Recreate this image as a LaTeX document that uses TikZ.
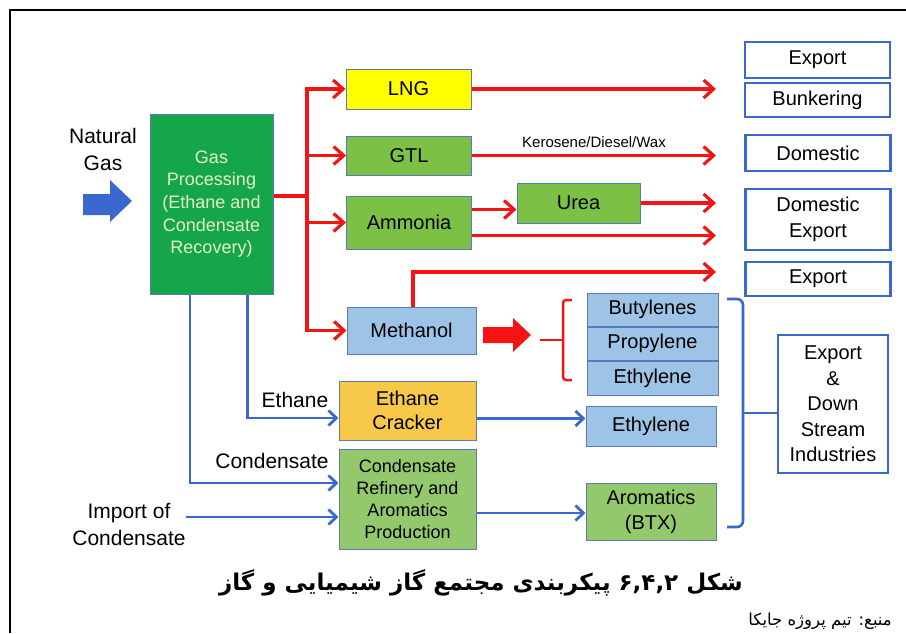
\documentclass[tikz,border=0pt]{standalone}
\usepackage{fontspec}
\setmainfont{Liberation Sans}
\newfontfamily\fafont[Script=Arabic]{DejaVu Sans}
\TeXXeTstate=1
\usepackage{xcolor}
\usepackage{tikz}
\usetikzlibrary{positioning,arrows.meta}
\definecolor{cRed}{HTML}{F41414}
\definecolor{cBlue}{HTML}{3A68CF}
\definecolor{cEdge}{HTML}{5A7BB4}
\definecolor{cGP}{HTML}{15A64A}
\definecolor{cGPtxt}{HTML}{E4F1C6}
\definecolor{cGreen}{HTML}{7CC045}
\definecolor{cGreenL}{HTML}{93C96C}
\definecolor{cYellow}{HTML}{FFFF00}
\definecolor{cOrange}{HTML}{F8C948}
\definecolor{cSky}{HTML}{9DC3E6}
\newcommand{\fs}[2]{\fontsize{#1}{#2}\selectfont}
\tikzset{
  blk/.style={draw=cEdge, line width=1pt, align=center, inner sep=0pt,
              font=\fs{20}{24}, minimum width=125pt, minimum height=40pt},
  blkG/.style={blk, fill=cGreen},
  blkL/.style={blk, fill=cGreenL, font=\fs{18}{22}},
  blkS/.style={blk, fill=cSky, minimum width=131pt},
  outb/.style={draw=cBlue, line width=2.5pt, fill=white, align=center,
               inner sep=0pt, font=\fs{20}{25.5}, minimum width=145pt},
  ar/.style={-{Straight Barb[length=10pt,width=18pt]}, cRed, line width=3.2pt},
  arB/.style={-{Straight Barb[length=8pt,width=15pt]}, cBlue, line width=2.8pt},
  tag/.style={font=\fs{21}{27}, inner sep=0pt, align=center}
}
\begin{document}
\begin{tikzpicture}[x=1pt,y=-1pt]
\useasboundingbox (0,0) rectangle (906,633);
\draw[line width=2pt] (10,633) -- (10,10) -- (906,10);
\node[tag] (ng) at (103,149) {Natural\\Gas};
\fill[cBlue] (83,194) -- (110,194) -- (110,180) -- (132,201) -- (110,222) -- (110,215) -- (83,215) -- cycle;
\node[blk, fill=cGP, text=cGPtxt, minimum width=123pt, minimum height=180pt,
      font=\fs{18}{22.7}] (gp) at (211.5,204) {Gas\\Processing\\(Ethane and\\Condensate\\Recovery)};
\node[blk, fill=cYellow] (lng) at (408.5,89) {LNG};
\node[blkG, minimum height=39pt] (gtl) at (409,155.5) {GTL};
\node[blkG, minimum height=53pt] (amm) at (409,222.5) {Ammonia};
\node[blkG, minimum width=123pt] (urea) at (578.5,203) {Urea};
\node[blk, fill=cSky, minimum width=129pt, minimum height=47pt] (meth) at (411.5,330.5) {Methanol};
\node[blk, fill=cOrange, minimum width=137pt, minimum height=59pt] (crack) at (407.5,410.5) {Ethane\\Cracker};
\node[blkL, minimum width=137pt, minimum height=100pt] (cond) at (407.5,499) {Condensate\\Refinery and\\Aromatics\\Production};
\node[blkS, minimum height=33pt] (but) at (652.5,309.5) {Butylenes};
\node[blkS, minimum height=33pt, below=0pt of but] (prop) {Propylene};
\node[blkS, minimum height=34pt, below=0pt of prop] (eth1) {Ethylene};
\node[blkS, minimum width=130pt] (eth2) at (651,426) {Ethylene};
\node[blkL, font=\fs{20}{25}, minimum width=130pt, minimum height=57pt] (btx) at (651,511.5) {Aromatics\\(BTX)};
\node[outb, minimum height=36pt] (exp1) at (817.5,60) {Export};
\node[outb, minimum height=34pt] (bunk) at (817.5,100) {Bunkering};
\node[outb, minimum height=36pt] (dom) at (818,153) {Domestic};
\node[outb, minimum height=61pt] (domexp) at (818,219.5) {Domestic\\Export};
\node[outb, minimum height=34pt] (exp2) at (818,279) {Export};
\node[outb, minimum width=110pt, minimum height=138pt] (eds) at (833,404) {Export\\\&\\Down\\Stream\\Industries};
\coordinate (trk) at (307,196);
\coordinate (xend) at (716,0);
\coordinate (eMeth) at (716,272);
\draw[cRed, line width=3.2pt] ([yshift=8pt]gp.east) -- (trk);
\draw[ar] (trk) |- (lng.west);
\draw[ar] (trk) |- (gtl.west);
\draw[ar] (trk) |- (amm.west);
\draw[ar] (trk) |- (meth.west);
\draw[ar] (lng.east) -- (lng.east -| xend);
\draw[ar] (gtl.east) -- (gtl.east -| xend) node[midway, above=3pt, font=\fs{15}{18}, text=black] (kdw) {Kerosene/Diesel/Wax};
\draw[ar] ([yshift=13pt]amm.east) -- ([yshift=13pt]amm.east -| urea.west);
\draw[ar] (urea.east) -- (urea.east -| xend);
\draw[ar] ([yshift=-13pt]amm.east) -- ([yshift=-13pt]amm.east -| xend);
\draw[ar] ([xshift=1.5pt]meth.north) |- (eMeth);
\fill[cRed] (483,327) -- (513,327) -- (513,318) -- (531,335) -- (513,352) -- (513,343) -- (483,343) -- cycle;
\draw[cRed, line width=2.5pt, rounded corners=3pt] (572,300) -- (563,300) -- (563,380) -- (572,380);
\draw[cRed, line width=2.5pt] (540,340) -- (563,340);
\node[tag] (lEth) at (295,400) {Ethane};
\node[tag] (lCond) at (272,461) {Condensate};
\node[tag] (imp) at (129,524) {Import of\\Condensate};
\draw[arB] ([xshift=36pt]gp.south) |- ([yshift=-7.5pt]crack.west);
\draw[arB] ([xshift=-21.5pt]gp.south) |- ([yshift=16pt]cond.west);
\draw[arB] ([yshift=7pt]imp.east) -- ([yshift=7pt]imp.east -| cond.west);
\draw[arB] ([yshift=-8pt]crack.east) -- ([yshift=-8pt]crack.east -| eth2.west);
\draw[arB] ([yshift=-14pt]cond.east) -- ([yshift=-14pt]cond.east -| btx.west);
\coordinate (brB) at (743,413);
\draw[cBlue, line width=2.6pt, rounded corners=6pt] (727,299) -- (743,299) -- (743,527) -- (727,527);
\draw[cBlue, line width=2.6pt] (brB) -- (brB -| eds.west);
\node[font=\fafont\bfseries\fs{23}{28}] (cap) at (481,583) {\beginR شکل \beginL۶,۴,۲\endL{} پیکربندی مجتمع گاز شیمیایی و گاز\endR};
\node[anchor=east, inner sep=0pt, font=\fafont\fs{16.5}{19}] (src) at (892,621) {\beginR منبع: تیم پروژه جایکا\endR};
\end{tikzpicture}
\end{document}
